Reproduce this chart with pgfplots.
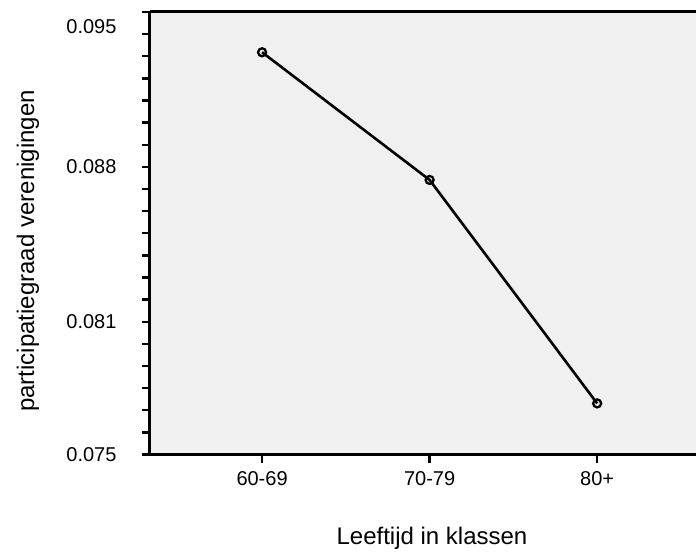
\documentclass[border=0pt]{standalone}
\usepackage{pgfplots}
\pgfplotsset{compat=1.18}
\usepackage{fontspec}
\setmainfont{Liberation Sans}
\definecolor{plotbg}{HTML}{F0F0F0}

\begin{document}
\begin{tikzpicture}
\useasboundingbox (-150pt,-97.5pt) rectangle (546pt,454.5pt);
\begin{axis}[
    scale only axis,
    width=546pt, height=442.5pt,
    xmin=-0.669, xmax=2.59,
    ymin=0.075, ymax=0.095,
    axis lines=left,
    axis line style={-, line width=3pt, black},
    axis background/.style={fill=plotbg},
    tick align=outside,
    major tick length=8pt, minor tick length=8pt,
    every tick/.style={black, line width=2.4pt},
    xtick={0,1,2},
    xticklabels={60-69,70-79,80+},
    ytick={0.075,0.081,0.088,0.095},
    yticklabels={0.075,0.081,0.088,\raisebox{-21.7pt}[0pt][0pt]{0.095}},
    minor ytick={0.076,0.077,0.078,0.079,0.080,0.082,0.083,0.084,0.085,0.086,0.087,0.089,0.090,0.091,0.092,0.093,0.094},
    tick label style={font=\fontsize{20}{24}\selectfont},
    yticklabel style={xshift=-22pt},
    xticklabel style={yshift=-5pt},
    label style={font=\fontsize{24}{29}\selectfont},
    xlabel={Leeftijd in klassen},
    ylabel={participatiegraad verenigingen},
    x label style={at={(axis description cs:0.5165,-0.1887)}, anchor=center},
    y label style={at={(axis description cs:-0.2234,0.46)}, anchor=center, rotate=0},
    clip=false,
]
\addplot[black, line width=2.6pt, mark=o, mark size=4pt, mark options={line width=2.3pt}]
    coordinates {(0,0.09318) (1,0.08741) (2,0.07731)};
\draw[line width=3pt, black] (rel axis cs:0,1) -- (rel axis cs:1,1);
\end{axis}
\end{tikzpicture}
\end{document}
